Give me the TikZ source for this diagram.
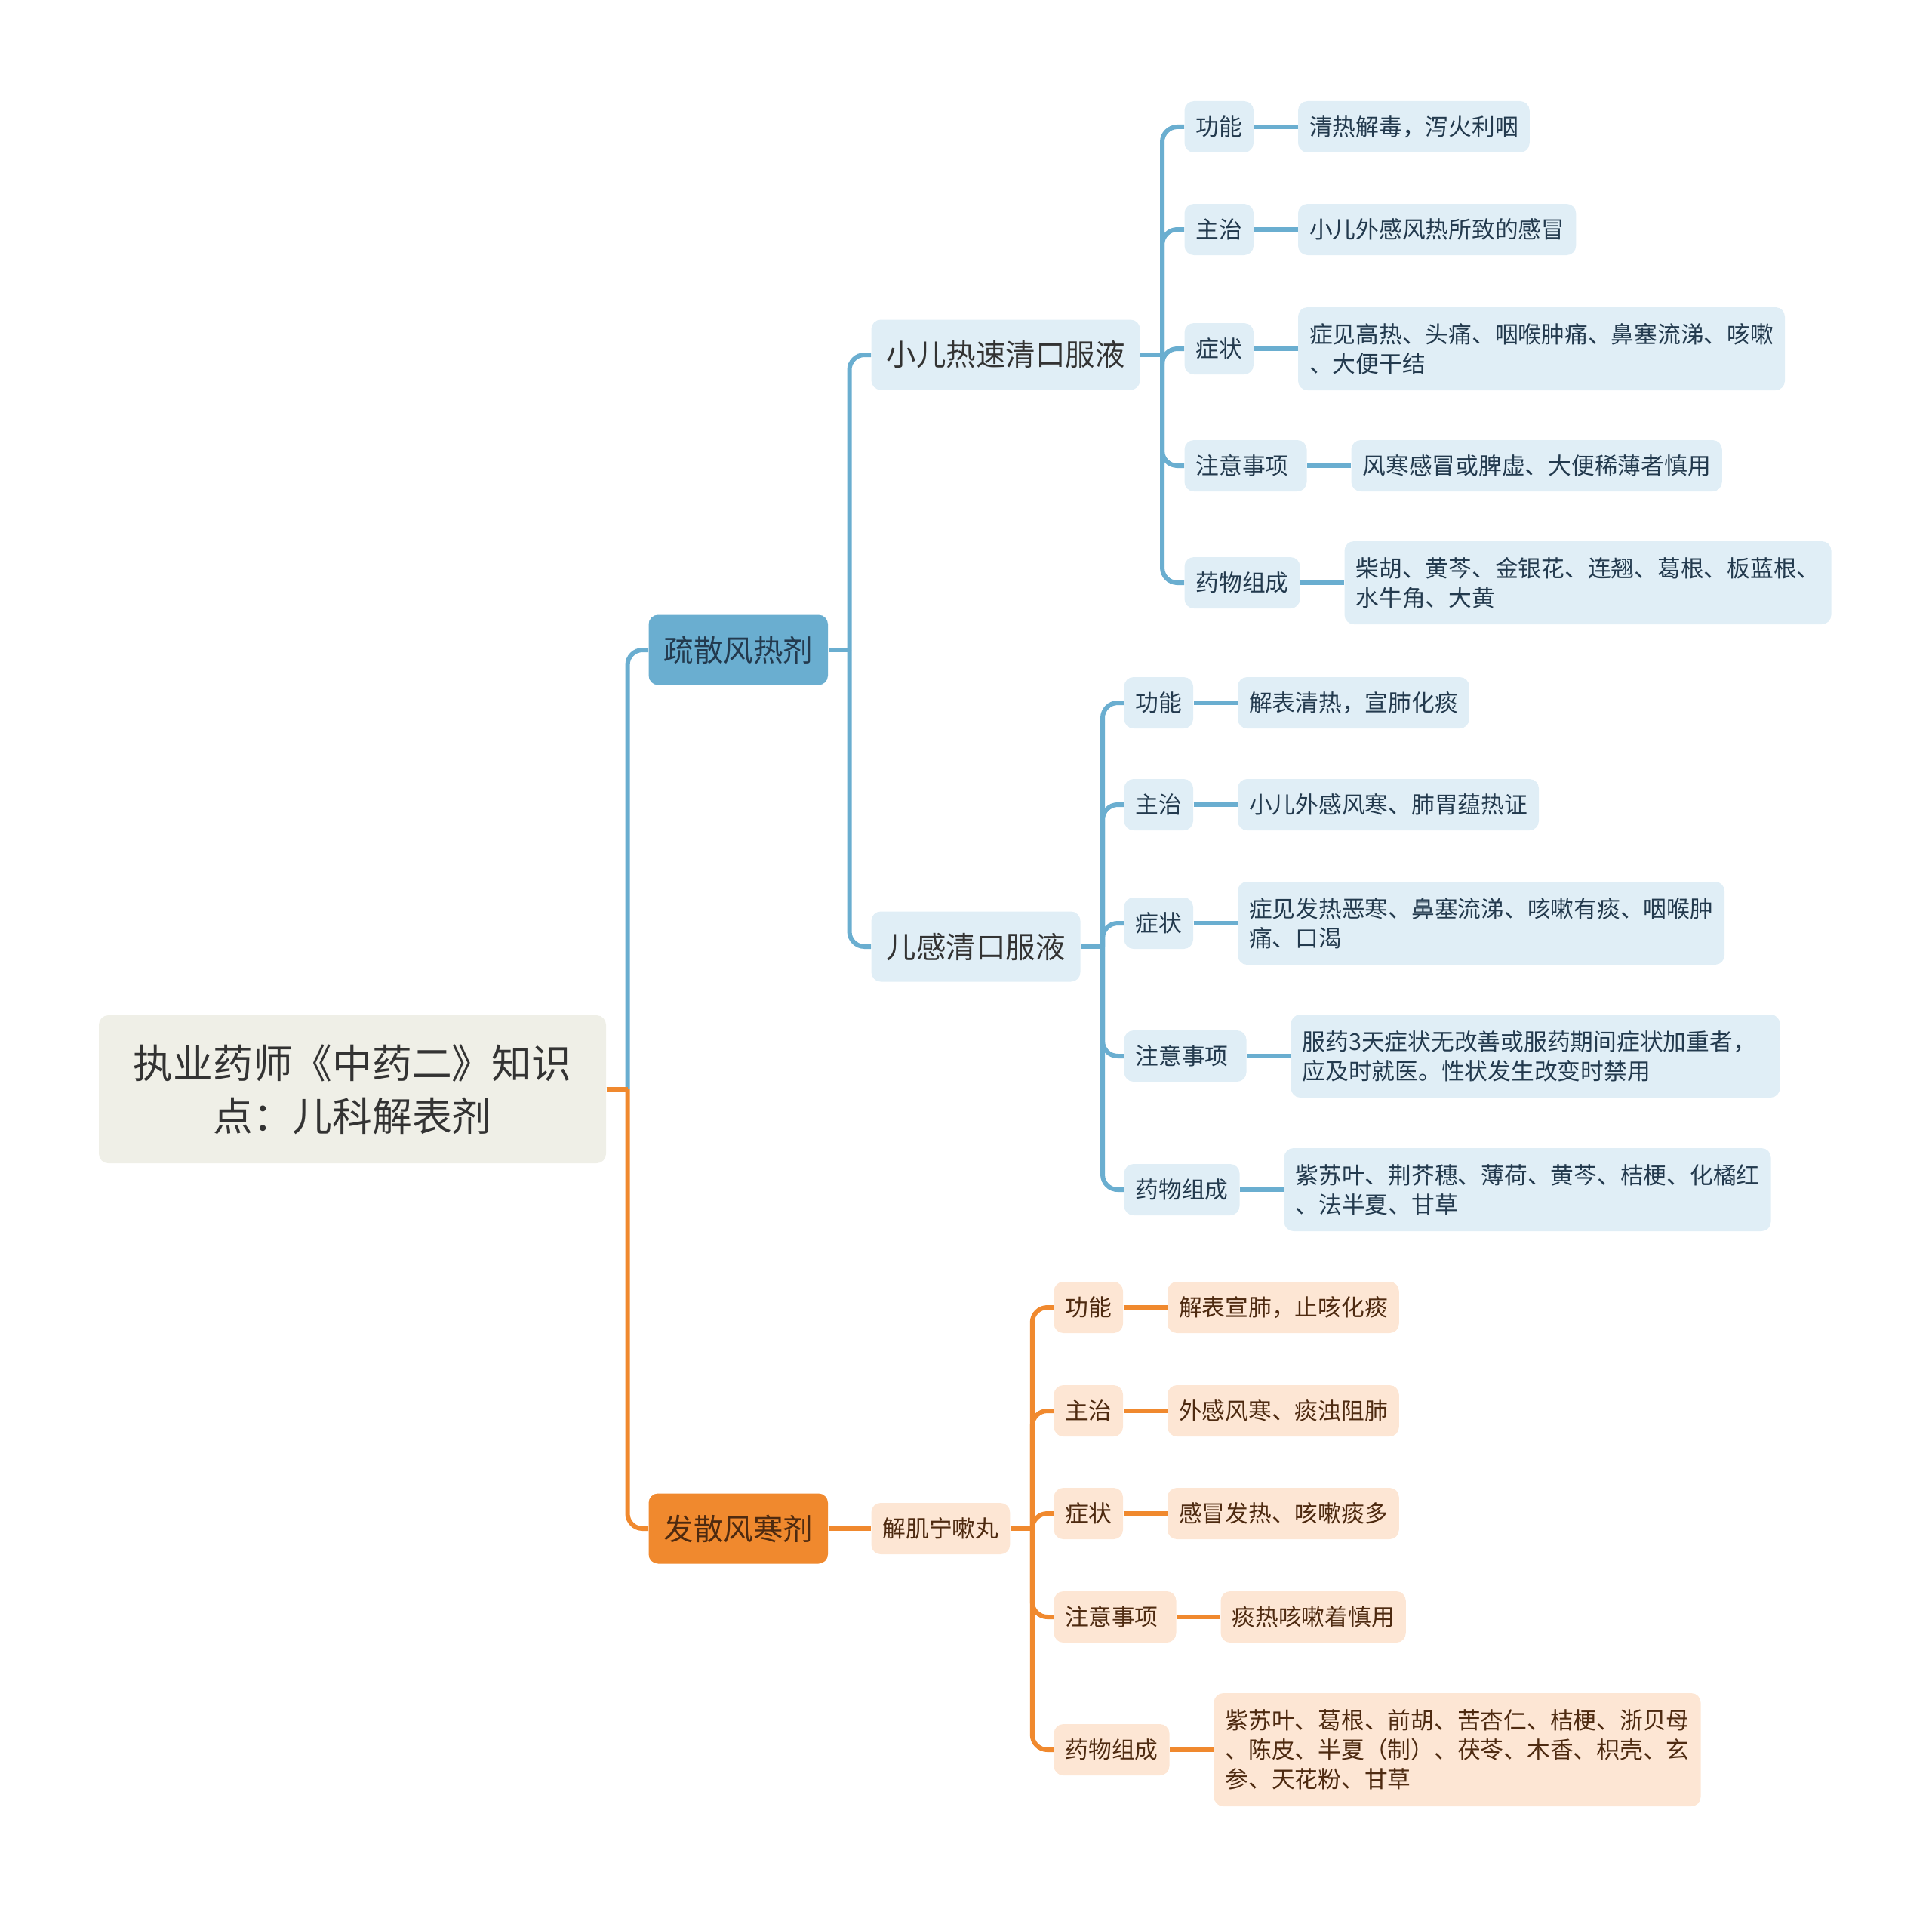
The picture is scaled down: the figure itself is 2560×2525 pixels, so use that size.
\documentclass[tikz,border=0pt]{standalone}
\usepackage{fontspec}
\setmainfont{Noto Sans CJK SC}
\usetikzlibrary{positioning}
\newdimen\px \px=0.4pt
\definecolor{rootfill}{HTML}{EFEFE7}
\definecolor{roottext}{HTML}{333333}
\definecolor{bmain}{HTML}{6AAED0}
\definecolor{blight}{HTML}{E0EEF6}
\definecolor{btext}{HTML}{233A4E}
\definecolor{omain}{HTML}{F0892E}
\definecolor{olight}{HTML}{FDE6D4}
\definecolor{otext}{HTML}{4E2A10}
\tikzset{
  box/.style={rounded corners=5pt, inner ysep=0pt, anchor=west},
  small/.style={font=\fontsize{12.3pt}{15.6pt}\selectfont, inner xsep=15\px, minimum height=68\px, align=left},
  big/.style={font=\fontsize{15.8pt}{19pt}\selectfont, inner xsep=20\px, minimum height=93\px},
  rootbox/.style={rounded corners=5pt, fill=rootfill, text=roottext, align=center,
     font=\fontsize{21.1pt}{28pt}\selectfont, minimum width=672\px, minimum height=196\px},
  l1b/.style={box, big, fill=bmain, text=btext},
  l1o/.style={box, big, fill=omain, text=otext},
  l2b/.style={box, big, fill=blight, text=roottext},
  l2o/.style={box, small, fill=olight, text=otext},
  nb/.style={box, small, fill=blight, text=btext},
  no/.style={box, small, fill=olight, text=otext},
  wide/.style={text width=132\px},
  bw/.style={draw=bmain, line width=6\px, rounded corners=8pt},
  ow/.style={draw=omain, line width=6\px, rounded corners=8pt},
}
\begin{document}
\begin{tikzpicture}[x=\px, y=-\px]
\useasboundingbox (0,0) rectangle (2560,2525);
% root
\node[rootbox] (root) at (467,1443) {执业药师《中药二》知识\\点：儿科解表剂};
% level 1
\node[l1b] (s1) at (859,861) {疏散风热剂};
\node[l1o] (s2) at (859,2025) {发散风寒剂};
% level 2
\node[l2b] (a) at (1154,470) {小儿热速清口服液};
\node[l2b] (b) at (1154,1254) {儿感清口服液};
\node[l2o] (c) at (1154,2025) {解肌宁嗽丸};
% branch a
\node[nb] (a1) at (1569,168) {功能};
\node[nb] (a2) at (1569,304) {主治};
\node[nb] (a3) at (1569,462) {症状};
\node[nb, wide] (a4) at (1569,617) {注意事项};
\node[nb] (a5) at (1569,772) {药物组成};
\node[nb, right=58\px of a1] (a1l) {清热解毒，泻火利咽};
\node[nb, right=58\px of a2] (a2l) {小儿外感风热所致的感冒};
\node[nb, right=58\px of a3, minimum height=110\px] (a3l) {症见高热、头痛、咽喉肿痛、鼻塞流涕、咳嗽\\、大便干结};
\node[nb, right=58\px of a4] (a4l) {风寒感冒或脾虚、大便稀薄者慎用};
\node[nb, right=58\px of a5, minimum height=110\px] (a5l) {柴胡、黄芩、金银花、连翘、葛根、板蓝根、\\水牛角、大黄};
% branch b
\node[nb] (b1) at (1489,931) {功能};
\node[nb] (b2) at (1489,1066) {主治};
\node[nb] (b3) at (1489,1223) {症状};
\node[nb, wide] (b4) at (1489,1399) {注意事项};
\node[nb] (b5) at (1489,1576) {药物组成};
\node[nb, right=58\px of b1] (b1l) {解表清热，宣肺化痰};
\node[nb, right=58\px of b2] (b2l) {小儿外感风寒、肺胃蕴热证};
\node[nb, right=58\px of b3, minimum height=110\px] (b3l) {症见发热恶寒、鼻塞流涕、咳嗽有痰、咽喉肿\\痛、口渴};
\node[nb, right=58\px of b4, minimum height=110\px, text width=618\px] (b4l) {服药3天症状无改善或服药期间症状加重者，\\应及时就医。性状发生改变时禁用};
\node[nb, right=58\px of b5, minimum height=110\px] (b5l) {紫苏叶、荆芥穗、薄荷、黄芩、桔梗、化橘红\\、法半夏、甘草};
% branch c
\node[no] (c1) at (1396,1732) {功能};
\node[no] (c2) at (1396,1869) {主治};
\node[no] (c3) at (1396,2005) {症状};
\node[no, wide] (c4) at (1396,2142) {注意事项};
\node[no] (c5) at (1396,2318) {药物组成};
\node[no, right=58\px of c1] (c1l) {解表宣肺，止咳化痰};
\node[no, right=58\px of c2] (c2l) {外感风寒、痰浊阻肺};
\node[no, right=58\px of c3] (c3l) {感冒发热、咳嗽痰多};
\node[no, right=58\px of c4] (c4l) {痰热咳嗽着慎用};
\node[no, right=58\px of c5, minimum height=150\px] (c5l) {紫苏叶、葛根、前胡、苦杏仁、桔梗、浙贝母\\、陈皮、半夏（制）、茯苓、木香、枳壳、玄\\参、天花粉、甘草};
% connectors
\draw[bw] (root.east) -- ++(28,0) coordinate (rj);
\draw[bw] (rj) |- (s1.west);
\draw[ow] (rj) |- (s2.west);
\draw[ow] (root.east) -- (rj);
\draw[bw] (s1.east) -- ++(28,0) coordinate (sj);
\foreach \t in {a,b} \draw[bw] (sj) |- (\t.west);
\draw[ow] (s2.east) -- (c.west);
\foreach \p in {a,b} {
  \draw[bw] (\p.east) -- ++(29,0) coordinate (\p j);
  \foreach \i in {1,...,5} {
    \draw[bw] (\p j) |- (\p\i.west);
    \draw[bw] (\p\i.east) -- (\p\i l.west);
  }
}
\draw[ow] (c.east) -- ++(29,0) coordinate (cj);
\foreach \i in {1,...,5} {
  \draw[ow] (cj) |- (c\i.west);
  \draw[ow] (c\i.east) -- (c\i l.west);
}
\end{tikzpicture}
\end{document}
